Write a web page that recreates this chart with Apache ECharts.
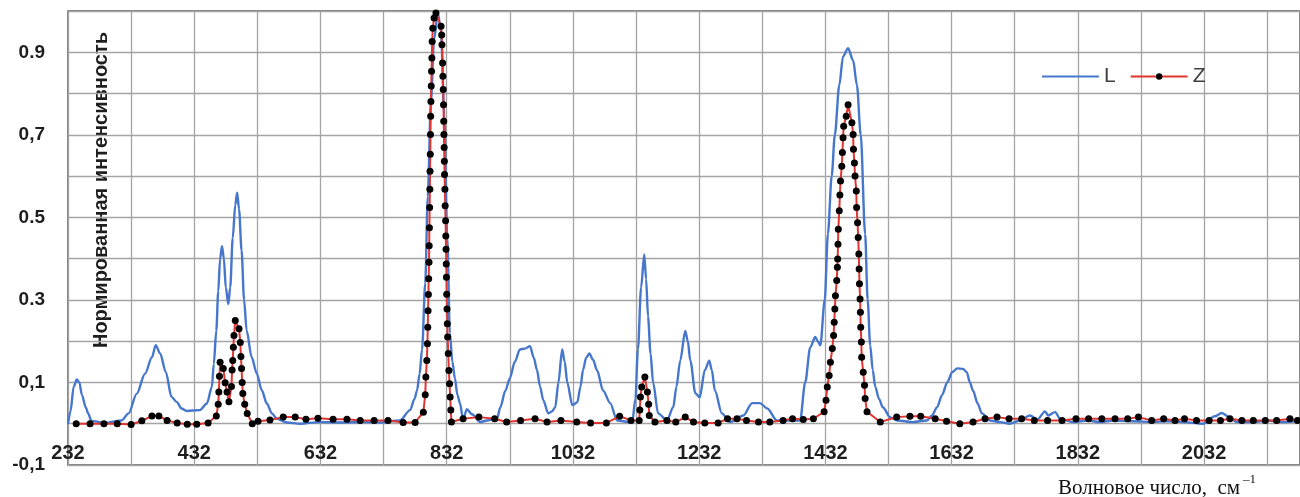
<!DOCTYPE html>
<html>
<head>
<meta charset="utf-8">
<script src="https://cdn.jsdelivr.net/npm/echarts@6/dist/echarts.min.js"></script>
<style>
  html, body { margin: 0; padding: 0; background: #fff; }
  #chart { width: 1300px; height: 497px; }
</style>
</head>
<body>
<div id="chart"></div>
<script>
// L spectrum: wavenumber (cm-1) and normalised intensity
const lWave = [232, 236, 241, 246, 250, 254, 260, 264, 269, 290, 317, 328, 341, 354, 365, 371, 378, 387, 396, 404,
  412, 420, 441, 452, 460, 463, 467, 470, 473, 476, 479, 482, 486, 489, 493, 497, 500, 503, 507, 511,
  515, 523, 531, 539, 547, 555, 563, 579, 600, 630, 663, 700, 726, 758, 774, 781, 785, 789, 793, 798,
  802, 807, 812, 818, 823, 828, 833, 837, 841, 845, 849, 853, 858, 864, 872, 885, 896, 912, 917, 925,
  932, 940, 948, 956, 964, 970, 975, 980, 985, 993, 999, 1004, 1009, 1015, 1019, 1023, 1031, 1039, 1044, 1048,
  1053, 1058, 1064, 1070, 1080, 1091, 1102, 1126, 1131, 1135, 1140, 1145, 1148, 1151, 1155, 1159, 1167, 1181, 1191, 1196,
  1202, 1210, 1214, 1218, 1226, 1233, 1241, 1248, 1252, 1257, 1268, 1281, 1302, 1316, 1328, 1340, 1355, 1392, 1400, 1408,
  1416, 1420, 1424, 1431, 1436, 1442, 1447, 1454, 1460, 1468, 1476, 1482, 1488, 1495, 1499, 1503, 1507, 1511, 1517, 1523,
  1535, 1546, 1570, 1593, 1601, 1609, 1617, 1625, 1633, 1641, 1650, 1656, 1661, 1666, 1673, 1680, 1693, 1709, 1724, 1740,
  1756, 1768, 1780, 1785, 1796, 1804, 1824, 1847, 1867, 1888, 1919, 1951, 1973, 1999, 2030, 2049, 2060, 2073, 2084, 2110,
  2132, 2157, 2184];
const lValue = [0, 0.03, 0.09, 0.107, 0.1, 0.07, 0.04, 0.025, 0.007, 0.002, 0.008, 0.025, 0.073, 0.121, 0.161, 0.19, 0.17, 0.125, 0.065, 0.053,
  0.037, 0.031, 0.033, 0.049, 0.089, 0.145, 0.226, 0.32, 0.40, 0.43, 0.40, 0.33, 0.29, 0.33, 0.45, 0.53, 0.56, 0.52, 0.42, 0.30,
  0.226, 0.161, 0.122, 0.081, 0.049, 0.025, 0.012, 0.003, 0, 0.004, 0.003, 0.004, 0.003, 0.008, 0.033, 0.06, 0.08, 0.12, 0.18, 0.34,
  0.55, 0.78, 0.93, 0.995, 0.95, 0.75, 0.45, 0.22, 0.15, 0.11, 0.07, 0.05, 0.01, 0.035, 0.023, 0.004, 0.008, 0.013, 0.04, 0.08,
  0.11, 0.15, 0.18, 0.182, 0.188, 0.16, 0.13, 0.09, 0.057, 0.025, 0.03, 0.04, 0.1, 0.18, 0.15, 0.1, 0.045, 0.052, 0.09, 0.13,
  0.16, 0.17, 0.155, 0.13, 0.08, 0.05, 0.008, 0.003, 0.06, 0.18, 0.33, 0.41, 0.35, 0.26, 0.17, 0.1, 0.025, 0.008, 0.04, 0.09,
  0.153, 0.225, 0.2, 0.153, 0.074, 0.064, 0.13, 0.153, 0.13, 0.08, 0.025, 0.004, 0.02, 0.05, 0.05, 0.037, 0.008, 0.008, 0.1, 0.185,
  0.21, 0.2, 0.19, 0.3, 0.46, 0.60, 0.70, 0.82, 0.89, 0.91, 0.88, 0.82, 0.70, 0.46, 0.30, 0.19, 0.13, 0.09, 0.06, 0.04,
  0.015, 0.008, 0.004, 0.008, 0.02, 0.04, 0.07, 0.1, 0.125, 0.134, 0.133, 0.125, 0.1, 0.08, 0.05, 0.025, 0.008, 0.004, 0, 0.008,
  0.02, 0.01, 0.03, 0.02, 0.028, 0.012, 0.004, 0.008, 0.004, 0.008, 0.006, 0.004, 0.006, 0.004, 0, 0.018, 0.026, 0.015, 0.004, 0.004,
  0.008, 0.004, 0.008];

// Z spectrum (markers)
const zWave = [245, 267, 289, 310, 332, 349, 365, 376, 389, 405, 421, 436, 454, 467, 470, 471, 472, 473, 478, 481,
  484, 487, 491, 492, 493, 494, 495, 497, 503, 505, 506, 507, 508, 509, 512, 516, 524, 533, 552, 573,
  592, 609, 628, 652, 674, 695, 717, 739, 763, 782, 795, 798, 799, 800.5, 801.5, 802, 802.5, 803, 803.5, 804,
  804.3, 804.6, 805, 805.3, 805.6, 806, 806.3, 806.6, 807, 807.5, 808, 808.5, 809, 810, 812, 815, 823, 824, 824.5, 825.5,
  826, 826.5, 827, 827.3, 827.6, 828, 828.3, 828.6, 829.2, 829.6, 830.3, 830.6, 831, 831.3, 831.6, 832, 832.5, 833, 833.5, 834.5,
  835.5, 836.5, 837.5, 838.5, 839.5, 858, 883, 908, 927, 949, 972, 991, 1013, 1038, 1060, 1085, 1106, 1124, 1137, 1138,
  1139, 1141, 1146, 1150, 1152, 1153, 1162, 1181, 1195, 1210, 1223, 1241, 1262, 1277, 1292, 1307, 1326, 1344, 1365, 1380,
  1397, 1413, 1430, 1433, 1435, 1438, 1440, 1443, 1445, 1446, 1447, 1448, 1450, 1451, 1451.5, 1452, 1452.5, 1454, 1455, 1456,
  1458, 1459, 1460, 1461, 1465, 1468, 1474, 1476, 1476.5, 1478, 1479, 1481, 1481.5, 1483, 1484, 1485, 1485.5, 1486, 1487, 1487.5,
  1488, 1489, 1489.5, 1492, 1494, 1495, 1498, 1519, 1545, 1566, 1583, 1606, 1624, 1645, 1666, 1685, 1704, 1723, 1743, 1763,
  1784, 1807, 1829, 1849, 1870, 1891, 1911, 1928, 1949, 1968, 1986, 2001, 2020, 2040, 2058, 2073, 2092, 2110, 2129, 2147,
  2168, 2180];
const zValue = [0, 0, 0, 0, -0.002, 0.007, 0.019, 0.019, 0.008, 0.002, -0.001, -0.001, 0.002, 0.019, 0.047, 0.077, 0.115, 0.149, 0.134, 0.099,
  0.077, 0.053, 0.09, 0.13, 0.153, 0.185, 0.214, 0.25, 0.23, 0.197, 0.163, 0.134, 0.1, 0.073, 0.047, 0.025, 0, 0.006, 0.009, 0.016,
  0.016, 0.011, 0.013, 0.011, 0.011, 0.008, 0.008, 0.008, 0.003, 0.003, 0.028, 0.07, 0.113, 0.153, 0.194, 0.234, 0.274, 0.313, 0.351, 0.391,
  0.431, 0.475, 0.524, 0.568, 0.612, 0.653, 0.701, 0.745, 0.781, 0.818, 0.854, 0.886, 0.926, 0.958, 0.983, 0.995, 0.963, 0.942, 0.918, 0.874,
  0.842, 0.81, 0.773, 0.733, 0.701, 0.669, 0.636, 0.604, 0.568, 0.528, 0.492, 0.455, 0.423, 0.387, 0.355, 0.314, 0.278, 0.242, 0.21, 0.17,
  0.129, 0.097, 0.065, 0.033, 0.004, 0.012, 0.016, 0.012, 0.004, 0.008, 0.012, 0.004, 0.008, 0.004, 0.002, 0.002, 0.018, 0.008, 0.008, 0.033,
  0.065, 0.089, 0.113, 0.077, 0.047, 0.02, 0.004, 0.008, 0.004, 0.016, 0.004, 0.002, 0.002, 0.012, 0.012, 0.008, 0.004, 0.004, 0.008, 0.012,
  0.01, 0.012, 0.029, 0.057, 0.089, 0.117, 0.149, 0.182, 0.214, 0.246, 0.278, 0.31, 0.347, 0.379, 0.399, 0.435, 0.471, 0.516, 0.554, 0.588,
  0.624, 0.657, 0.693, 0.721, 0.745, 0.773, 0.729, 0.701, 0.665, 0.632, 0.6, 0.564, 0.524, 0.487, 0.451, 0.411, 0.375, 0.339, 0.302, 0.27,
  0.234, 0.198, 0.161, 0.125, 0.093, 0.061, 0.029, 0.004, 0.016, 0.018, 0.018, 0.012, 0.006, 0, 0.004, 0.012, 0.016, 0.012, 0.012, 0.008,
  0.008, 0.008, 0.012, 0.012, 0.012, 0.012, 0.012, 0.016, 0.008, 0.012, 0.008, 0.012, 0.008, 0.008, 0.008, 0.012, 0.008, 0.008, 0.008, 0.008,
  0.012, 0.008];

// tick labels as printed in the original
const yTickValues = [-0.1, 0.1, 0.3, 0.5, 0.7, 0.9];
const yTickLabels = ['-0,1', '0,1', '0.3', '0.5', '0,7', '0.9'];
const xLabelStart = 232;
const xLabelStep = 200;

const font = 'Liberation Sans, Arial, sans-serif';
const serif = 'Liberation Serif, Times New Roman, serif';
const lData = lWave.map((w, i) => [w, lValue[i]]);
const zData = zWave.map((w, i) => [w, zValue[i]]);

const myChart = echarts.init(document.getElementById('chart'));
myChart.setOption({
  animation: false,
  grid: {
    left: 68,
    right: 0,
    top: 11,
    bottom: 32,
    show: true,
    borderColor: '#5a5a5a',
    borderWidth: 1.5
  },
  legend: {
    // the L entry is a plain line, no marker
    data: [
      { name: 'L', itemStyle: { color: 'rgba(0,0,0,0)', borderColor: 'rgba(0,0,0,0)', borderWidth: 0 } },
      { name: 'Z' }
    ],
    left: 1036,
    top: 61,
    itemWidth: 57,
    itemHeight: 8,
    itemGap: 14,
    textStyle: { fontFamily: font, fontSize: 21, color: '#404040' }
  },
  xAxis: {
    type: 'value',
    min: 232,
    max: 2184,
    interval: 100,
    axisLine: { show: false },
    axisTick: { show: false },
    splitLine: { show: true, lineStyle: { color: '#a4a4a4', width: 1.3 } },
    axisLabel: {
      inside: true,
      margin: 2,
      showMaxLabel: false,
      fontFamily: font,
      fontSize: 20,
      fontWeight: 'bold',
      color: '#1e1e1e',
      formatter: function (v) {
        return (v - xLabelStart) % xLabelStep === 0 ? String(v) : '';
      }
    }
  },
  yAxis: {
    type: 'value',
    min: -0.1,
    max: 1.0,
    interval: 0.1,
    axisLine: { show: false },
    axisTick: { show: false },
    splitLine: { show: true, lineStyle: { color: '#a4a4a4', width: 1.3 } },
    axisLabel: {
      margin: 23,
      fontFamily: font,
      fontSize: 19,
      fontWeight: 'bold',
      color: '#1e1e1e',
      formatter: function (v) {
        const k = Math.round(v * 10);
        const idx = yTickValues.findIndex(t => Math.round(t * 10) === k);
        return idx >= 0 ? yTickLabels[idx] : '';
      }
    }
  },
  graphic: [
    {
      type: 'text',
      x: 101,
      y: 190,
      rotation: Math.PI / 2,
      style: {
        text: 'Нормированная интенсивность',
        x: 0,
        y: 0,
        align: 'center',
        verticalAlign: 'middle',
        font: 'bold 20px ' + font,
        fill: '#1e1e1e'
      }
    },
    {
      type: 'text',
      x: 1058,
      y: 488,
      style: {
        text: 'Волновое число,  см',
        align: 'left',
        verticalAlign: 'middle',
        font: '21px ' + serif,
        fill: '#111'
      }
    },
    {
      type: 'text',
      x: 1243,
      y: 480,
      style: {
        text: '–1',
        align: 'left',
        verticalAlign: 'middle',
        font: '13px ' + serif,
        fill: '#111'
      }
    }
  ],
  series: [
    {
      name: 'L',
      type: 'line',
      data: lData,
      showSymbol: false,
      symbol: 'none',
      smooth: 0.3,
      smoothMonotone: 'x',
      color: '#4677cc',
      lineStyle: { color: '#4677cc', width: 2.4 }
    },
    {
      name: 'Z',
      type: 'line',
      data: zData,
      symbol: 'circle',
      symbolSize: 7,
      color: '#e03530',
      itemStyle: { color: '#000' },
      lineStyle: { color: '#e03530', width: 2 }
    }
  ]
});
</script>
</body>
</html>
